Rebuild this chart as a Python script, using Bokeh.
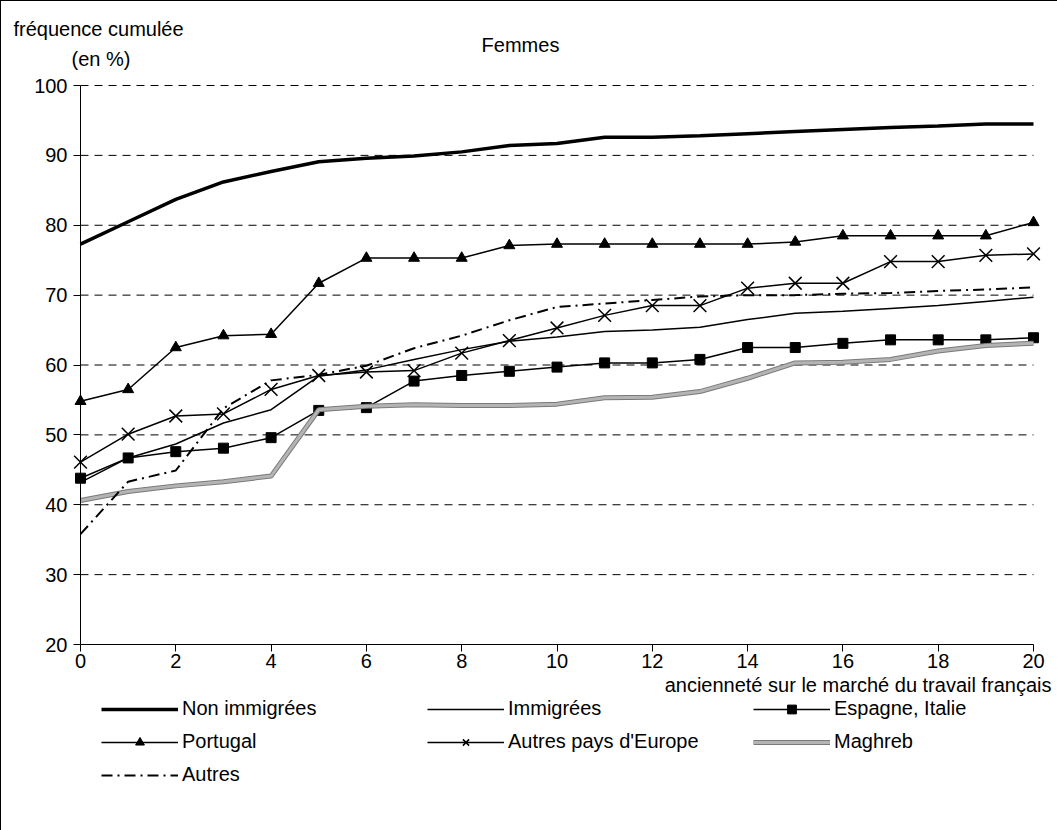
from bokeh.plotting import figure
from bokeh.models import Range1d, FixedTicker, Legend, LegendItem, Label
from bokeh.embed import file_html
from bokeh.resources import INLINE

years = list(range(21))
non_immigrees = [77.3, 80.5, 83.7, 86.2, 87.7, 89.1, 89.6, 89.9, 90.5, 91.4, 91.7,
                 92.6, 92.6, 92.8, 93.1, 93.4, 93.7, 94.0, 94.2, 94.5, 94.5]
immigrees = [43.2, 46.7, 48.7, 51.7, 53.6, 58.4, 59.3, 60.8, 62.2, 63.4, 64.0,
             64.8, 65.0, 65.4, 66.5, 67.4, 67.7, 68.1, 68.5, 69.1, 69.7]
espagne_italie = [43.8, 46.7, 47.6, 48.1, 49.6, 53.5, 53.9, 57.7, 58.5, 59.1, 59.7,
                  60.3, 60.3, 60.8, 62.5, 62.5, 63.1, 63.6, 63.6, 63.6, 63.9]
portugal = [54.8, 56.5, 62.5, 64.2, 64.4, 71.7, 75.3, 75.3, 75.3, 77.1, 77.3,
            77.3, 77.3, 77.3, 77.3, 77.6, 78.5, 78.5, 78.5, 78.5, 80.4]
autres_europe = [46.1, 50.1, 52.7, 53.0, 56.5, 58.5, 59.0, 59.2, 61.7, 63.5, 65.3,
                 67.1, 68.5, 68.5, 71.0, 71.7, 71.7, 74.8, 74.8, 75.7, 75.9]
maghreb = [40.6, 41.9, 42.7, 43.3, 44.1, 53.6, 54.1, 54.3, 54.2, 54.2, 54.4,
           55.3, 55.4, 56.2, 58.1, 60.3, 60.4, 60.8, 62.0, 62.8, 63.1]
autres = [35.8, 43.3, 44.9, 53.8, 57.8, 58.6, 59.9, 62.4, 64.2, 66.4, 68.3,
          68.8, 69.3, 69.8, 70.0, 70.0, 70.2, 70.3, 70.6, 70.8, 71.1]

x_ticks = list(range(0, 21, 2))
y_ticks = list(range(20, 101, 10))
X_MIN, X_MAX = 0, 20
Y_MIN, Y_MAX = 20, 100

# page layout (pixels): where the axes sit on the canvas
W, H = 1057, 830
PX_LEFT, PX_RIGHT = 79, 1032
PX_TOP, PX_BOTTOM = 84, 643

kx = (X_MAX - X_MIN) / (PX_RIGHT - PX_LEFT)
ky = (Y_MAX - Y_MIN) / (PX_BOTTOM - PX_TOP)

def dx(px):
    return X_MIN + (px - PX_LEFT) * kx

def dy(py):
    return Y_MIN + (PX_BOTTOM - py) * ky

FONT = "Liberation Sans"
FS = "20px"

p = figure(width=W, height=H,
           x_range=Range1d(dx(0), dx(W)), y_range=Range1d(dy(H), dy(0)),
           output_backend="svg", toolbar_location=None,
           min_border=0, min_border_left=0, min_border_right=0,
           min_border_top=0, min_border_bottom=0,
           styles={"border-top": "1px solid black", "border-left": "1px solid black"})
p.outline_line_color = None
p.background_fill_color = "white"
p.border_fill_color = "white"
p.xgrid.visible = False
p.ygrid.visible = False

p.xaxis.fixed_location = Y_MIN
p.yaxis.fixed_location = X_MIN
p.xaxis.bounds = (X_MIN, X_MAX)
p.yaxis.bounds = (Y_MIN, Y_MAX)
p.xaxis.ticker = FixedTicker(ticks=x_ticks)
p.yaxis.ticker = FixedTicker(ticks=y_ticks)
p.xaxis.major_label_standoff = 2
p.yaxis.major_label_standoff = 6
for ax in (p.xaxis[0], p.yaxis[0]):
    ax.axis_line_color = "black"
    ax.axis_line_width = 1
    ax.major_tick_line_color = "black"
    ax.major_tick_out = 7
    ax.major_tick_in = 0
    ax.minor_tick_line_color = None
    ax.major_label_text_font = FONT
    ax.major_label_text_font_size = FS
    ax.major_label_text_color = "black"

# dashed horizontal grid lines at the y ticks
grid_y = [t for t in y_ticks if t > Y_MIN]
p.segment(x0=[X_MIN] * len(grid_y), x1=[X_MAX] * len(grid_y), y0=grid_y, y1=grid_y,
          line_color="black", line_width=1, line_dash="8 6")

r_non = p.line(years, non_immigrees, line_color="black", line_width=3.5)
r_imm = p.line(years, immigrees, line_color="black", line_width=1.5)
r_esp = p.line(years, espagne_italie, line_color="black", line_width=1.5)
m_esp = p.scatter(years, espagne_italie, marker="square", size=10, fill_color="black", line_color="black")
r_por = p.line(years, portugal, line_color="black", line_width=1.5)
m_por = p.scatter(years, portugal, marker="triangle", size=11, fill_color="black", line_color="black")
r_eur = p.line(years, autres_europe, line_color="black", line_width=1.5)
m_eur = p.scatter(years, autres_europe, marker="x", size=18, line_color="black", line_width=1.5)
r_mag1 = p.line(years, maghreb, line_color="#7a7a7a", line_width=5)
r_mag2 = p.line(years, maghreb, line_color="#b4b4b4", line_width=3)
r_aut = p.line(years, autres, line_color="black", line_width=2, line_dash="11 5 2 5")

items = [
    LegendItem(label="Non immigrées", renderers=[r_non]),
    LegendItem(label="Immigrées", renderers=[r_imm]),
    LegendItem(label="Espagne, Italie", renderers=[r_esp, m_esp]),
    LegendItem(label="Portugal", renderers=[r_por, m_por]),
    LegendItem(label="Autres pays d'Europe", renderers=[r_eur, m_eur]),
    LegendItem(label="Maghreb", renderers=[r_mag1, r_mag2]),
    LegendItem(label="Autres", renderers=[r_aut]),
]
legend = Legend(items=items, ncols=3, orientation="horizontal", location=(100, H - 785),
                glyph_width=77, glyph_height=22, label_height=22, label_width=235,
                label_standoff=4, spacing=10, padding=0, margin=0,
                border_line_color=None, background_fill_alpha=0,
                label_text_font=FONT, label_text_font_size=FS, label_text_color="black")
p.add_layout(legend, "center")

def lab(text, px, py, align="left"):
    p.add_layout(Label(x=dx(px), y=dy(py), text=text, text_align=align,
                       text_baseline="middle", text_font=FONT, text_font_size=FS,
                       text_color="black"))

lab("fréquence cumulée", 12, 27)
lab("(en %)", 70, 57)
lab("Femmes", 519, 43, "center")
lab("ancienneté sur le marché du travail français", 1050, 683, "right")

open("out.html", "w").write(file_html(p, INLINE))
